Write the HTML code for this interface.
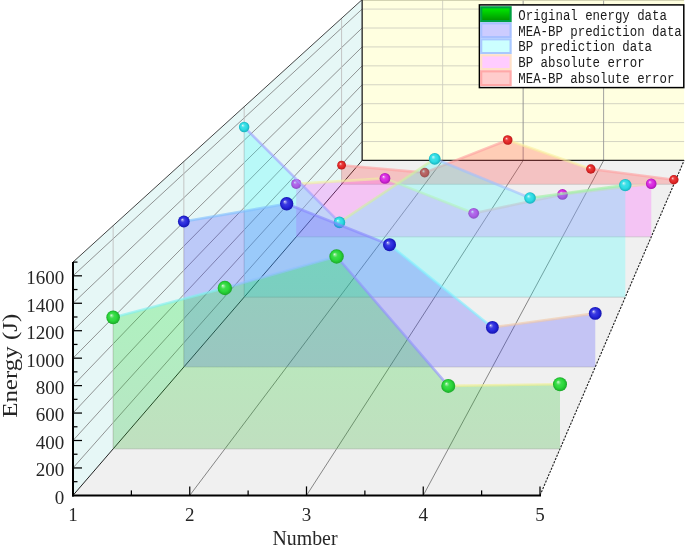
<!DOCTYPE html>
<html><head><meta charset="utf-8"><style>
html,body{margin:0;padding:0;background:#fff;}
body{width:685px;height:546px;overflow:hidden;}
svg{display:block;will-change:transform;}
.tl{font-family:"Liberation Serif",serif;font-size:19px;fill:#262626;}
.at{font-family:"Liberation Serif",serif;font-size:22px;fill:#262626;}
.lt{font-family:"Liberation Mono",monospace;font-size:14px;fill:#1a1a1a;}
</style></head><body>
<svg width="685" height="546" viewBox="0 0 685 546">
<defs>
<radialGradient id="b_green" cx="0.5" cy="0.5" r="0.5" fx="0.35" fy="0.33"><stop offset="0" stop-color="#f0fff0"/><stop offset="0.12" stop-color="#97ed9e"/><stop offset="0.35" stop-color="#3edc4c"/><stop offset="0.65" stop-color="#2ad83a"/><stop offset="1" stop-color="#1ca82a"/></radialGradient>
<radialGradient id="b_blue" cx="0.5" cy="0.5" r="0.5" fx="0.35" fy="0.33"><stop offset="0" stop-color="#f0f0ff"/><stop offset="0.12" stop-color="#9696ef"/><stop offset="0.35" stop-color="#3c3ce0"/><stop offset="0.65" stop-color="#2828dc"/><stop offset="1" stop-color="#1414b0"/></radialGradient>
<radialGradient id="b_cyan" cx="0.5" cy="0.5" r="0.5" fx="0.35" fy="0.33"><stop offset="0" stop-color="#f0ffff"/><stop offset="0.12" stop-color="#98eff3"/><stop offset="0.35" stop-color="#40e0e7"/><stop offset="0.65" stop-color="#2cdce4"/><stop offset="1" stop-color="#18b0bc"/></radialGradient>
<radialGradient id="b_magenta" cx="0.5" cy="0.5" r="0.5" fx="0.35" fy="0.33"><stop offset="0" stop-color="#fff0ff"/><stop offset="0.12" stop-color="#ed96f1"/><stop offset="0.35" stop-color="#dc3ce3"/><stop offset="0.65" stop-color="#d828e0"/><stop offset="1" stop-color="#a818b0"/></radialGradient>
<radialGradient id="b_red" cx="0.5" cy="0.5" r="0.5" fx="0.35" fy="0.33"><stop offset="0" stop-color="#fff0f0"/><stop offset="0.12" stop-color="#f39696"/><stop offset="0.35" stop-color="#e73c3c"/><stop offset="0.65" stop-color="#e42828"/><stop offset="1" stop-color="#b81818"/></radialGradient>
<linearGradient id="gf_green" gradientUnits="userSpaceOnUse" x1="0" y1="256" x2="0" y2="449"><stop offset="0" stop-color="#08f020"/><stop offset="1" stop-color="#34b034"/></linearGradient>
<linearGradient id="lg_green" x1="0" y1="0" x2="0" y2="1"><stop offset="0" stop-color="#00f000"/><stop offset="1" stop-color="#009000"/></linearGradient>
</defs>
<rect width="685" height="546" fill="#ffffff"/>
<polygon points="73,495.4 540,495.4 684.11,160.47 362.15,160.47" fill="#f0f0f0"/>
<polygon points="73,495.4 73,262.09 362.15,-0.38 362.15,160.47" fill="#e6f7f6"/>
<polygon points="362.15,160.47 362.15,-0.38 684.11,-0.38 684.11,160.47" fill="#ffffe0"/>
<line x1="73" y1="467.95" x2="362.15" y2="141.54" stroke="#7a7a7a" stroke-width="0.8"/>
<line x1="73" y1="440.5" x2="362.15" y2="122.62" stroke="#7a7a7a" stroke-width="0.8"/>
<line x1="73" y1="413.06" x2="362.15" y2="103.7" stroke="#7a7a7a" stroke-width="0.8"/>
<line x1="73" y1="385.61" x2="362.15" y2="84.78" stroke="#7a7a7a" stroke-width="0.8"/>
<line x1="73" y1="358.16" x2="362.15" y2="65.85" stroke="#7a7a7a" stroke-width="0.8"/>
<line x1="73" y1="330.71" x2="362.15" y2="46.93" stroke="#7a7a7a" stroke-width="0.8"/>
<line x1="73" y1="303.26" x2="362.15" y2="28.01" stroke="#7a7a7a" stroke-width="0.8"/>
<line x1="73" y1="275.82" x2="362.15" y2="9.08" stroke="#7a7a7a" stroke-width="0.8"/>
<line x1="113.13" y1="448.91" x2="113.13" y2="225.66" stroke="#c0c0c0" stroke-width="0.9"/>
<line x1="183.84" y1="367.01" x2="183.84" y2="161.48" stroke="#c0c0c0" stroke-width="0.9"/>
<line x1="244.16" y1="297.15" x2="244.16" y2="106.73" stroke="#c0c0c0" stroke-width="0.9"/>
<line x1="341.58" y1="184.3" x2="341.58" y2="18.3" stroke="#c0c0c0" stroke-width="0.9"/>
<line x1="362.15" y1="141.54" x2="684.11" y2="141.54" stroke="#cfcfbf" stroke-width="0.9"/>
<line x1="362.15" y1="122.62" x2="684.11" y2="122.62" stroke="#cfcfbf" stroke-width="0.9"/>
<line x1="362.15" y1="103.7" x2="684.11" y2="103.7" stroke="#cfcfbf" stroke-width="0.9"/>
<line x1="362.15" y1="84.78" x2="684.11" y2="84.78" stroke="#cfcfbf" stroke-width="0.9"/>
<line x1="362.15" y1="65.85" x2="684.11" y2="65.85" stroke="#cfcfbf" stroke-width="0.9"/>
<line x1="362.15" y1="46.93" x2="684.11" y2="46.93" stroke="#cfcfbf" stroke-width="0.9"/>
<line x1="362.15" y1="28.01" x2="684.11" y2="28.01" stroke="#cfcfbf" stroke-width="0.9"/>
<line x1="362.15" y1="9.08" x2="684.11" y2="9.08" stroke="#cfcfbf" stroke-width="0.9"/>
<line x1="442.64" y1="160.47" x2="442.64" y2="-0.38" stroke="#cfcfc0" stroke-width="0.9"/>
<line x1="523.13" y1="160.47" x2="523.13" y2="-0.38" stroke="#8c8c8c" stroke-width="0.9"/>
<line x1="603.62" y1="160.47" x2="603.62" y2="-0.38" stroke="#969696" stroke-width="0.9"/>
<line x1="189.75" y1="495.4" x2="442.64" y2="160.47" stroke="#606060" stroke-width="0.75"/>
<line x1="306.5" y1="495.4" x2="523.13" y2="160.47" stroke="#606060" stroke-width="0.75"/>
<line x1="423.25" y1="495.4" x2="603.62" y2="160.47" stroke="#606060" stroke-width="0.75"/>
<line x1="362.15" y1="0.3" x2="684.11" y2="0.3" stroke="#c8c8a8" stroke-width="1"/>
<polyline points="73,262.09 362.15,-0.38" fill="none" stroke="#303030" stroke-width="0.9"/>
<polyline points="362.15,-0.38 362.15,160.47 684.11,160.47" fill="none" stroke="#202020" stroke-width="1.3"/>
<line x1="540" y1="495.4" x2="684.11" y2="160.47" stroke="#202020" stroke-width="1.1" stroke-dasharray="2.2 1.3"/>
<line x1="73" y1="495.4" x2="362.15" y2="160.47" stroke="#202020" stroke-width="1"/>
<polygon points="341.58,165.2 424.65,172.6 507.72,140 590.79,169 673.86,179.7 673.86,184.3 341.58,184.3" fill="#ff4848" fill-opacity="0.27"/>
<line x1="341.58" y1="184.3" x2="673.86" y2="184.3" stroke="#a0a0a0" stroke-opacity="0.45" stroke-width="0.9"/>
<line x1="341.58" y1="165.2" x2="424.65" y2="172.6" stroke="#ffa0a0" stroke-width="2.6" stroke-opacity="0.62" stroke-linecap="round"/>
<line x1="424.65" y1="172.6" x2="507.72" y2="140" stroke="#ffa0a0" stroke-width="2.6" stroke-opacity="0.62" stroke-linecap="round"/>
<line x1="507.72" y1="140" x2="590.79" y2="169" stroke="#f8f0a0" stroke-width="2.6" stroke-opacity="0.62" stroke-linecap="round"/>
<line x1="590.79" y1="169" x2="673.86" y2="179.7" stroke="#ffa0a0" stroke-width="2.6" stroke-opacity="0.62" stroke-linecap="round"/>
<circle cx="341.58" cy="165.2" r="4.4" fill="url(#b_red)"/>
<circle cx="424.65" cy="172.6" r="4.8" fill="url(#b_red)"/>
<circle cx="507.72" cy="140" r="4.8" fill="url(#b_red)"/>
<circle cx="590.79" cy="169" r="4.7" fill="url(#b_red)"/>
<circle cx="673.86" cy="179.7" r="4.7" fill="url(#b_red)"/>
<polygon points="296.2,183.9 384.96,178.4 473.72,213.3 562.48,194.4 651.24,183.7 651.24,236.86 296.2,236.86" fill="#ff40ff" fill-opacity="0.25"/>
<line x1="296.2" y1="236.86" x2="651.24" y2="236.86" stroke="#a0a0a0" stroke-opacity="0.45" stroke-width="0.9"/>
<line x1="296.2" y1="183.9" x2="384.96" y2="178.4" stroke="#f0f0a0" stroke-width="2.6" stroke-opacity="0.62" stroke-linecap="round"/>
<line x1="384.96" y1="178.4" x2="473.72" y2="213.3" stroke="#e0f0a8" stroke-width="2.6" stroke-opacity="0.62" stroke-linecap="round"/>
<line x1="473.72" y1="213.3" x2="562.48" y2="194.4" stroke="#f0b8c0" stroke-width="2.6" stroke-opacity="0.62" stroke-linecap="round"/>
<line x1="562.48" y1="194.4" x2="651.24" y2="183.7" stroke="#f0d0b0" stroke-width="2.6" stroke-opacity="0.62" stroke-linecap="round"/>
<circle cx="296.2" cy="183.9" r="5" fill="url(#b_magenta)"/>
<circle cx="384.96" cy="178.4" r="5.4" fill="url(#b_magenta)"/>
<circle cx="473.72" cy="213.3" r="5.4" fill="url(#b_magenta)"/>
<circle cx="562.48" cy="194.4" r="5.3" fill="url(#b_magenta)"/>
<circle cx="651.24" cy="183.7" r="5.3" fill="url(#b_magenta)"/>
<polygon points="244.16,127 339.44,222.4 434.73,158.8 530.02,198 625.3,185.1 625.3,297.15 244.16,297.15" fill="#30ffff" fill-opacity="0.25"/>
<line x1="244.16" y1="297.15" x2="625.3" y2="297.15" stroke="#a0a0a0" stroke-opacity="0.45" stroke-width="0.9"/>
<line x1="244.16" y1="127" x2="339.44" y2="222.4" stroke="#a0a0ff" stroke-width="2.6" stroke-opacity="0.62" stroke-linecap="round"/>
<line x1="339.44" y1="222.4" x2="434.73" y2="158.8" stroke="#d0f0a0" stroke-width="2.6" stroke-opacity="0.62" stroke-linecap="round"/>
<line x1="434.73" y1="158.8" x2="530.02" y2="198" stroke="#a0c0ff" stroke-width="2.6" stroke-opacity="0.62" stroke-linecap="round"/>
<line x1="530.02" y1="198" x2="625.3" y2="185.1" stroke="#a0f0a0" stroke-width="2.6" stroke-opacity="0.62" stroke-linecap="round"/>
<circle cx="244.16" cy="127" r="5.2" fill="url(#b_cyan)"/>
<circle cx="339.44" cy="222.4" r="5.8" fill="url(#b_cyan)"/>
<circle cx="434.73" cy="158.8" r="5.9" fill="url(#b_cyan)"/>
<circle cx="530.02" cy="198" r="5.8" fill="url(#b_cyan)"/>
<circle cx="625.3" cy="185.1" r="6.2" fill="url(#b_cyan)"/>
<polygon points="183.84,221.5 286.69,203.8 389.54,244.7 492.39,327.4 595.24,313.4 595.24,367.01 183.84,367.01" fill="#4040ff" fill-opacity="0.25"/>
<line x1="183.84" y1="367.01" x2="595.24" y2="367.01" stroke="#a0a0a0" stroke-opacity="0.45" stroke-width="0.9"/>
<line x1="183.84" y1="221.5" x2="286.69" y2="203.8" stroke="#80c0ff" stroke-width="2.6" stroke-opacity="0.62" stroke-linecap="round"/>
<line x1="286.69" y1="203.8" x2="389.54" y2="244.7" stroke="#8888ff" stroke-width="2.6" stroke-opacity="0.62" stroke-linecap="round"/>
<line x1="389.54" y1="244.7" x2="492.39" y2="327.4" stroke="#80f0ff" stroke-width="2.6" stroke-opacity="0.62" stroke-linecap="round"/>
<line x1="492.39" y1="327.4" x2="595.24" y2="313.4" stroke="#f0c8a8" stroke-width="2.6" stroke-opacity="0.62" stroke-linecap="round"/>
<circle cx="183.84" cy="221.5" r="5.9" fill="url(#b_blue)"/>
<circle cx="286.69" cy="203.8" r="6.7" fill="url(#b_blue)"/>
<circle cx="389.54" cy="244.7" r="6.5" fill="url(#b_blue)"/>
<circle cx="492.39" cy="327.4" r="6.4" fill="url(#b_blue)"/>
<circle cx="595.24" cy="313.4" r="6.4" fill="url(#b_blue)"/>
<polygon points="113.13,317.4 224.85,288 336.57,256.5 448.28,385.9 560,384.2 560,448.91 113.13,448.91" fill="url(#gf_green)" fill-opacity="0.26"/>
<line x1="113.13" y1="448.91" x2="560" y2="448.91" stroke="#a0a0a0" stroke-opacity="0.45" stroke-width="0.9"/>
<line x1="113.13" y1="317.4" x2="224.85" y2="288" stroke="#80f0f0" stroke-width="2.6" stroke-opacity="0.62" stroke-linecap="round"/>
<line x1="224.85" y1="288" x2="336.57" y2="256.5" stroke="#90c0ff" stroke-width="2.6" stroke-opacity="0.62" stroke-linecap="round"/>
<line x1="336.57" y1="256.5" x2="448.28" y2="385.9" stroke="#9090ff" stroke-width="2.6" stroke-opacity="0.62" stroke-linecap="round"/>
<line x1="448.28" y1="385.9" x2="560" y2="384.2" stroke="#f0f090" stroke-width="2.6" stroke-opacity="0.62" stroke-linecap="round"/>
<circle cx="113.13" cy="317.4" r="6.8" fill="url(#b_green)"/>
<circle cx="224.85" cy="288" r="7.2" fill="url(#b_green)"/>
<circle cx="336.57" cy="256.5" r="7.2" fill="url(#b_green)"/>
<circle cx="448.28" cy="385.9" r="7" fill="url(#b_green)"/>
<circle cx="560" cy="384.2" r="7" fill="url(#b_green)"/>
<line x1="72" y1="495.4" x2="541" y2="495.4" stroke="#000" stroke-width="2"/>
<line x1="73" y1="496.4" x2="73" y2="262.09" stroke="#000" stroke-width="2"/>
<line x1="73" y1="481.68" x2="77.5" y2="481.68" stroke="#000" stroke-width="1.25"/>
<line x1="73" y1="467.95" x2="82" y2="467.95" stroke="#000" stroke-width="1.25"/>
<line x1="73" y1="454.23" x2="77.5" y2="454.23" stroke="#000" stroke-width="1.25"/>
<line x1="73" y1="440.5" x2="82" y2="440.5" stroke="#000" stroke-width="1.25"/>
<line x1="73" y1="426.78" x2="77.5" y2="426.78" stroke="#000" stroke-width="1.25"/>
<line x1="73" y1="413.06" x2="82" y2="413.06" stroke="#000" stroke-width="1.25"/>
<line x1="73" y1="399.33" x2="77.5" y2="399.33" stroke="#000" stroke-width="1.25"/>
<line x1="73" y1="385.61" x2="82" y2="385.61" stroke="#000" stroke-width="1.25"/>
<line x1="73" y1="371.88" x2="77.5" y2="371.88" stroke="#000" stroke-width="1.25"/>
<line x1="73" y1="358.16" x2="82" y2="358.16" stroke="#000" stroke-width="1.25"/>
<line x1="73" y1="344.44" x2="77.5" y2="344.44" stroke="#000" stroke-width="1.25"/>
<line x1="73" y1="330.71" x2="82" y2="330.71" stroke="#000" stroke-width="1.25"/>
<line x1="73" y1="316.99" x2="77.5" y2="316.99" stroke="#000" stroke-width="1.25"/>
<line x1="73" y1="303.26" x2="82" y2="303.26" stroke="#000" stroke-width="1.25"/>
<line x1="73" y1="289.54" x2="77.5" y2="289.54" stroke="#000" stroke-width="1.25"/>
<line x1="73" y1="275.82" x2="82" y2="275.82" stroke="#000" stroke-width="1.25"/>
<line x1="73" y1="262.09" x2="77.5" y2="262.09" stroke="#000" stroke-width="1.25"/>
<line x1="131.38" y1="495.4" x2="131.38" y2="490.4" stroke="#000" stroke-width="1.25"/>
<line x1="189.75" y1="495.4" x2="189.75" y2="486.4" stroke="#000" stroke-width="1.25"/>
<line x1="248.12" y1="495.4" x2="248.12" y2="490.4" stroke="#000" stroke-width="1.25"/>
<line x1="306.5" y1="495.4" x2="306.5" y2="486.4" stroke="#000" stroke-width="1.25"/>
<line x1="364.88" y1="495.4" x2="364.88" y2="490.4" stroke="#000" stroke-width="1.25"/>
<line x1="423.25" y1="495.4" x2="423.25" y2="486.4" stroke="#000" stroke-width="1.25"/>
<line x1="481.62" y1="495.4" x2="481.62" y2="490.4" stroke="#000" stroke-width="1.25"/>
<line x1="540" y1="495.4" x2="540" y2="486.4" stroke="#000" stroke-width="1.25"/>
<text x="64.3" y="503.8" text-anchor="end" class="tl">0</text>
<text x="64.3" y="476.35" text-anchor="end" class="tl">200</text>
<text x="64.3" y="448.9" text-anchor="end" class="tl">400</text>
<text x="64.3" y="421.46" text-anchor="end" class="tl">600</text>
<text x="64.3" y="394.01" text-anchor="end" class="tl">800</text>
<text x="64.3" y="366.56" text-anchor="end" class="tl">1000</text>
<text x="64.3" y="339.11" text-anchor="end" class="tl">1200</text>
<text x="64.3" y="311.66" text-anchor="end" class="tl">1400</text>
<text x="64.3" y="284.22" text-anchor="end" class="tl">1600</text>
<text x="73" y="520.8" text-anchor="middle" class="tl">1</text>
<text x="189.75" y="520.8" text-anchor="middle" class="tl">2</text>
<text x="306.5" y="520.8" text-anchor="middle" class="tl">3</text>
<text x="423.25" y="520.8" text-anchor="middle" class="tl">4</text>
<text x="540" y="520.8" text-anchor="middle" class="tl">5</text>
<text x="305" y="544.6" text-anchor="middle" class="at" textLength="65" lengthAdjust="spacingAndGlyphs">Number</text>
<text transform="translate(16.9,365.8) rotate(-90)" text-anchor="middle" class="at" textLength="104" lengthAdjust="spacingAndGlyphs">Energy (J)</text>
<rect x="479.4" y="4.9" width="204.4" height="82.7" fill="#ffffff" stroke="#000" stroke-width="1.5"/>
<rect x="481.2" y="7.3" width="29.4" height="13.8" fill="url(#lg_green)" stroke="#00a040" stroke-width="2.2"/>
<text x="518.3" y="19.8" class="lt" textLength="148.6" lengthAdjust="spacingAndGlyphs">Original energy data</text>
<rect x="481.2" y="23.3" width="29.4" height="13.8" fill="#ccccff" stroke="#a8c0ff" stroke-width="2.2"/>
<text x="518.3" y="35.6" class="lt" textLength="163.46" lengthAdjust="spacingAndGlyphs">MEA-BP prediction data</text>
<rect x="481.2" y="39.3" width="29.4" height="13.8" fill="#ccffff" stroke="#a8c8ff" stroke-width="2.2"/>
<text x="518.3" y="51.4" class="lt" textLength="133.74" lengthAdjust="spacingAndGlyphs">BP prediction data</text>
<rect x="481.2" y="55.3" width="29.4" height="13.8" fill="#ffccff" stroke="#ffe0c8" stroke-width="2.2"/>
<text x="518.3" y="67.2" class="lt" textLength="126.31" lengthAdjust="spacingAndGlyphs">BP absolute error</text>
<rect x="481.2" y="71.3" width="29.4" height="13.8" fill="#ffcccc" stroke="#ffa8a8" stroke-width="2.2"/>
<text x="518.3" y="83" class="lt" textLength="156.03" lengthAdjust="spacingAndGlyphs">MEA-BP absolute error</text>
</svg>
</body></html>
